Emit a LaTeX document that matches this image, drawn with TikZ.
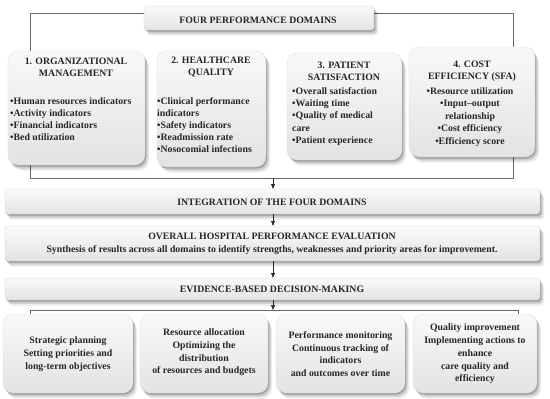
\documentclass[tikz,border=0pt]{standalone}
\usepackage{fontspec}
\setmainfont{Liberation Serif}
\usetikzlibrary{shadows,arrows.meta}
\pgfdeclarelayer{bg}
\pgfsetlayers{bg,main}
\begin{document}
\begin{tikzpicture}[x=1pt,y=-1pt,
  txt/.style={font=\bfseries\fontsize{9.8}{12}\selectfont, text=black!85, inner sep=0pt},
  txtb/.style={font=\bfseries\fontsize{9.8}{12.7}\selectfont, text=black!85, inner sep=0pt},
  shad/.style={drop shadow={shadow xshift=1pt,shadow yshift=-1.5pt,opacity=.22,fill=black},
               drop shadow={shadow xshift=2.5pt,shadow yshift=-3.5pt,opacity=.14,fill=black},
               drop shadow={shadow xshift=4pt,shadow yshift=-5.5pt,opacity=.08,fill=black}},
  dombox/.style={shad, rectangle, rounded corners=10pt, top color=gray!5, bottom color=gray!22, draw=gray!30, line width=0.3pt, inner sep=0pt},
  barbox/.style={shad, rectangle, rounded corners=3pt, top color=gray!4, bottom color=gray!22, draw=gray!35, line width=0.3pt, inner sep=0pt},
  link/.style={draw=black!60, line width=0.6pt},
  arr/.style={draw=black!85, line width=0.7pt, -{Stealth[length=5pt,width=4pt,inset=0.5pt]}}
]
\useasboundingbox (0,0) rectangle (550,399);

% top box
\node[barbox, minimum width=230pt, minimum height=24pt] (top) at (259,18) {};
\node[txt] (toptxt) at (258,20.5) {FOUR PERFORMANCE DOMAINS};

% domain boxes
\node[dombox, minimum width=137pt, minimum height=114pt] (d1) at (76.5,108) {};
\node[dombox, minimum width=109pt, minimum height=116pt] (d2) at (211.5,109) {};
\node[dombox, minimum width=115pt, minimum height=107pt] (d3) at (344.5,106.5) {};
\node[dombox, minimum width=126pt, minimum height=110pt] (d4) at (472,102) {};

\node[txt, align=center] (d1t) at (76,67.5) {1. ORGANIZATIONAL\\MANAGEMENT};
\node[txt, align=left, anchor=west] (d1b) at (10,119.5) {•Human resources indicators\\•Activity indicators\\•Financial indicators\\•Bed utilization};

\node[txt, align=center] (d2t) at (211,67.5) {2. HEALTHCARE\\QUALITY};
\node[txt, align=left, anchor=west] (d2b) at (157,125.5) {•Clinical performance\\indicators\\•Safety indicators\\•Readmission rate\\•Nosocomial infections};

\node[txt, align=center] (d3t) at (344,71.5) {3. PATIENT\\SATISFACTION};
\node[txt, align=left, anchor=west, font=\bfseries\fontsize{9.8}{12.4}\selectfont] (d3b) at (292,116.5) {•Overall satisfaction\\•Waiting time\\•Quality of medical\\care\\•Patient experience};

\node[txt, align=center] (d4t) at (472,71.5) {4. COST\\EFFICIENCY (SFA)};
\node[txt, align=center, font=\bfseries\fontsize{9.8}{12.4}\selectfont] (d4b) at (470,117) {•Resource utilization\\•Input–output\\relationship\\•Cost efficiency\\•Efficiency score};

% horizontal bars
\node[barbox, minimum width=535pt, minimum height=25pt] (integ) at (272.5,201.5) {};
\node[txt] (integt) at (272,202) {INTEGRATION OF THE FOUR DOMAINS};

\node[barbox, minimum width=535pt, minimum height=35pt] (overall) at (272.5,243.5) {};
\node[txt, align=center, font=\bfseries\fontsize{9.8}{13}\selectfont] (overallt) at (272,244) {OVERALL HOSPITAL PERFORMANCE EVALUATION\\Synthesis of results across all domains to identify strengths, weaknesses and priority areas for improvement.};

\node[barbox, minimum width=535pt, minimum height=22pt] (evid) at (272.5,289) {};
\node[txt] (evidt) at (272,289) {EVIDENCE-BASED DECISION-MAKING};

% bottom boxes
\node[dombox, minimum width=130pt, minimum height=79pt] (b1) at (68,353.5) {};
\node[dombox, minimum width=128pt, minimum height=79pt] (b2) at (204,353.5) {};
\node[dombox, minimum width=129pt, minimum height=79pt] (b3) at (340.5,353.5) {};
\node[dombox, minimum width=124pt, minimum height=79pt] (b4) at (475,353.5) {};

\node[txtb, align=center] (b1t) at (68,354) {Strategic planning\\Setting priorities and\\long-term objectives};
\node[txtb, align=center] (b2t) at (204,352.5) {Resource allocation\\Optimizing the\\distribution\\of resources and budgets};
\node[txtb, align=center] (b3t) at (340.5,354) {Performance monitoring\\Continuous tracking of\\indicators\\and outcomes over time};
\node[txtb, align=center] (b4t) at (475,354) {Quality improvement\\Implementing actions to\\enhance\\care quality and\\efficiency};

% connectors
\coordinate (tl) at (30,13);
\coordinate (tr) at (513,13);
\coordinate (bl) at (30,178);
\coordinate (br) at (513,178);
\coordinate (bm) at (273,178);
\coordinate (ql) at (30,310);
\coordinate (qr) at (518,310);
\coordinate (qm) at (273,310);

\begin{pgfonlayer}{bg}
\fill[white] (0,0) rectangle (550,399);
\draw[link] (top.west |- tl) -- (tl) -- (bl) -- (br) -- (tr) -- (top.east |- tr);
\end{pgfonlayer}
\draw[arr] (bm) -- (bm |- integ.north);
\draw[arr] (integ.south -| bm) -- (overall.north -| bm);
\draw[arr] (overall.south -| bm) -- (evid.north -| bm);
\draw[arr] (evid.south -| qm) -- (qm);
\draw[link] (b1.north -| ql) -- (ql) -- (qr) -- (b4.north -| qr);
\end{tikzpicture}
\end{document}
